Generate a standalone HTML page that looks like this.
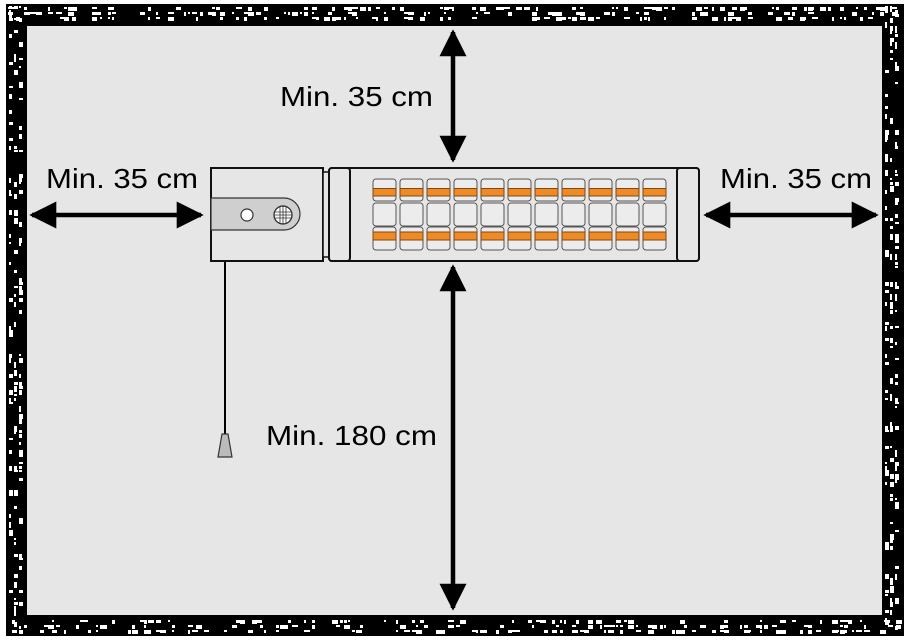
<!DOCTYPE html>
<html><head><meta charset="utf-8"><style>
html,body{margin:0;padding:0;background:#fff;}
svg{display:block;}
text{font-family:"Liberation Sans",sans-serif;font-size:28px;fill:#000;}
</style></head><body>
<svg id="s" width="910" height="644" viewBox="0 0 910 644">
<rect x="0" y="0" width="910" height="644" fill="#fff"/>
<rect x="6" y="4" width="898" height="632" fill="#000"/>
<g id="noise" fill="#fff"></g>
<rect x="27" y="26" width="855" height="589" fill="#e6e6e6"/>
<defs>
<marker id="ah" viewBox="0 0 10 10" refX="9" refY="5" markerWidth="6" markerHeight="6" markerUnits="strokeWidth" orient="auto-start-reverse"><path d="M0,0 L10,5 L0,10 z" fill="#000"/></marker>
</defs>
<g stroke="#000" stroke-width="4.5" fill="none">
<line x1="453" y1="32" x2="453" y2="160" marker-start="url(#ah)" marker-end="url(#ah)"/>
<line x1="453" y1="267" x2="453" y2="608" marker-start="url(#ah)" marker-end="url(#ah)"/>
<line x1="32" y1="215" x2="201" y2="215" marker-start="url(#ah)" marker-end="url(#ah)"/>
<line x1="706" y1="215" x2="876" y2="215" marker-start="url(#ah)" marker-end="url(#ah)"/>
</g>
<line x1="225" y1="261" x2="225" y2="436" stroke="#000" stroke-width="2"/>
<path d="M222,434 L228,434 L232,457 L218,457 Z" fill="#bbb" stroke="#333" stroke-width="1.2"/>
<rect x="211" y="168" width="112" height="93" fill="#e6e6e6" stroke="#111" stroke-width="2"/>
<path d="M211,198 L284,198 A16,16 0 0 1 284,230 L211,230 Z" fill="#cfcfcf" stroke="#333" stroke-width="1.2"/>
<circle cx="247" cy="215" r="6" fill="#fff" stroke="#333" stroke-width="1.2"/>
<circle cx="283" cy="215" r="9" fill="#fff" stroke="#333" stroke-width="1.2"/>
<g stroke="#333" stroke-width="0.8">
<line x1="274" y1="212" x2="292" y2="212"/><line x1="274" y1="215" x2="292" y2="215"/><line x1="274" y1="218" x2="292" y2="218"/>
<line x1="280" y1="206" x2="280" y2="224"/><line x1="283" y1="206" x2="283" y2="224"/><line x1="286" y1="206" x2="286" y2="224"/>
</g>
<circle cx="283" cy="215" r="9" fill="none" stroke="#333" stroke-width="1.2"/>
<rect x="323" y="172" width="6" height="85" fill="#e6e6e6" stroke="#111" stroke-width="1.5"/>
<rect x="329" y="168" width="370" height="93" rx="3" fill="#e6e6e6" stroke="#111" stroke-width="2"/>
<rect x="329" y="168" width="21" height="93" rx="3" fill="#e6e6e6" stroke="#111" stroke-width="2"/>
<rect x="677" y="168" width="22" height="93" rx="3" fill="#e6e6e6" stroke="#111" stroke-width="2"/>
<g id="slots"></g>
<text x="280" y="106" textLength="153" lengthAdjust="spacingAndGlyphs">Min. 35 cm</text>
<text x="46" y="188" textLength="152" lengthAdjust="spacingAndGlyphs">Min. 35 cm</text>
<text x="720" y="188" textLength="152" lengthAdjust="spacingAndGlyphs">Min. 35 cm</text>
<text x="266" y="445" textLength="171" lengthAdjust="spacingAndGlyphs">Min. 180 cm</text>
</svg>
<script>
(function(){
var ns="http://www.w3.org/2000/svg";
var g=document.getElementById("slots");
function r(x,y,w,h,f,s,rx){var e=document.createElementNS(ns,"rect");e.setAttribute("x",x);e.setAttribute("y",y);e.setAttribute("width",w);e.setAttribute("height",h);e.setAttribute("fill",f);if(s){e.setAttribute("stroke",s);e.setAttribute("stroke-width","1");}if(rx)e.setAttribute("rx",rx);return e;}
for(var i=0;i<11;i++){var x=373+i*27;
g.appendChild(r(x,179,23,22,"#ececec","#555",3));
g.appendChild(r(x,188.5,23,7.5,"#f08a24","#7a4a1a"));
g.appendChild(r(x,203,23,23,"#ececec","#555",3));
g.appendChild(r(x,227,23,23,"#ececec","#555",3));
g.appendChild(r(x,232,23,8,"#f08a24","#7a4a1a"));}
var n=document.getElementById("noise");var seed=7;function rnd(){seed=(seed*16807)%2147483647;return seed/2147483647;}
function add(x,y,w,h){n.appendChild(r(x,y,w,h,"#fff"));}
for(var x=8;x<900;x+=4){for(var y of [7,12,17,620,625,630]){if(rnd()<0.3)add(x,y,2+Math.floor(rnd()*5),2+Math.floor(rnd()*3));}}
for(var y=6;y<632;y+=4){for(var x of [9,14,19,885,890,895]){if(rnd()<0.3)add(x,y,2+Math.floor(rnd()*3),2+Math.floor(rnd()*5));}}
})();
</script>
</body></html>
